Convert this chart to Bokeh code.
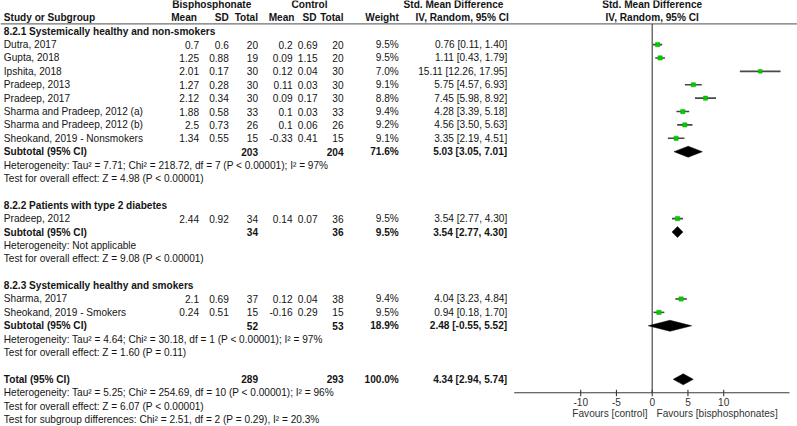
from bokeh.plotting import figure
from bokeh.models import ColumnDataSource, Range1d
from bokeh.core.properties import value
from bokeh.embed import file_html
from bokeh.resources import INLINE

# ---------------- data ----------------
studies = ["Dutra, 2017", "Gupta, 2018", "Ipshita, 2018", "Pradeep, 2013", "Pradeep, 2017",
           "Sharma and Pradeep, 2012 (a)", "Sharma and Pradeep, 2012 (b)",
           "Sheokand, 2019 - Nonsmokers", "Pradeep, 2012", "Sharma, 2017",
           "Sheokand, 2019 - Smokers"]
study_group = [0, 0, 0, 0, 0, 0, 0, 0, 1, 2, 2]
bis_mean = [0.7, 1.25, 2.01, 1.27, 2.12, 1.88, 2.5, 1.34, 2.44, 2.1, 0.24]
bis_sd = [0.6, 0.88, 0.17, 0.28, 0.34, 0.58, 0.73, 0.55, 0.92, 0.69, 0.51]
bis_n = [20, 19, 30, 30, 30, 33, 26, 15, 34, 37, 15]
ctl_mean = [0.2, 0.09, 0.12, 0.11, 0.09, 0.1, 0.1, -0.33, 0.14, 0.12, -0.16]
ctl_sd = [0.69, 1.15, 0.04, 0.03, 0.17, 0.03, 0.06, 0.41, 0.07, 0.04, 0.29]
ctl_n = [20, 20, 30, 30, 30, 33, 26, 15, 36, 38, 15]
weight = [9.5, 9.5, 7.0, 9.1, 8.8, 9.4, 9.2, 9.1, 9.5, 9.4, 9.5]
smd = [0.76, 1.11, 15.11, 5.75, 7.45, 4.28, 4.56, 3.35, 3.54, 4.04, 0.94]
smd_lo = [0.11, 0.43, 12.26, 4.57, 5.98, 3.39, 3.50, 2.19, 2.77, 3.23, 0.18]
smd_hi = [1.40, 1.79, 17.95, 6.93, 8.92, 5.18, 5.63, 4.51, 4.30, 4.84, 1.70]

group_titles = ["8.2.1 Systemically healthy and non-smokers",
                "8.2.2 Patients with type 2 diabetes",
                "8.2.3 Systemically healthy and smokers"]
sub_bis_n = [203, 34, 52]
sub_ctl_n = [204, 36, 53]
sub_weight = [71.6, 9.5, 18.9]
sub_smd = [5.03, 3.54, 2.48]
sub_lo = [3.05, 2.77, -0.55]
sub_hi = [7.01, 4.30, 5.52]
sub_het = ["Heterogeneity: Tau\u00b2 = 7.71; Chi\u00b2 = 218.72, df = 7 (P < 0.00001); I\u00b2 = 97%",
           "Heterogeneity: Not applicable",
           "Heterogeneity: Tau\u00b2 = 4.64; Chi\u00b2 = 30.18, df = 1 (P < 0.00001); I\u00b2 = 97%"]
sub_test = ["Test for overall effect: Z = 4.98 (P < 0.00001)",
            "Test for overall effect: Z = 9.08 (P < 0.00001)",
            "Test for overall effect: Z = 1.60 (P = 0.11)"]

tot_bis_n = 289
tot_ctl_n = 293
tot_weight = 100.0
tot_smd = 4.34
tot_lo = 2.94
tot_hi = 5.74
tot_notes = ["Heterogeneity: Tau\u00b2 = 5.25; Chi\u00b2 = 254.69, df = 10 (P < 0.00001); I\u00b2 = 96%",
             "Test for overall effect: Z = 6.07 (P < 0.00001)",
             "Test for subgroup differences: Chi\u00b2 = 2.51, df = 2 (P = 0.29), I\u00b2 = 20.3%"]

tick_values = [-10, -5, 0, 5, 10]
axis_extent = (-19.3, 19.2)
favours = ["Favours [control]", "Favours [bisphosphonates]"]

# ---------------- layout constants (pixel columns) ----------------
FONT = value("Liberation Sans")
FS = "10.1px"
INK = "#141414"
C_NAME = 3.3
C_BM, C_BSD, C_BN = 198.5, 228.3, 257.5
C_CM, C_CSD, C_CN = 292.0, 317.0, 343.0
C_W = 398.3
C_CI = 506.7
ZERO_PX, PX_PER_UNIT = 651.7, 7.15
Y0, PITCH = 17.3, 13.39  # px of row 0 and row pitch
W, H = 797, 426

p = figure(width=W, height=H,
           x_range=Range1d(0, W),
           y_range=Range1d((H - Y0) / PITCH, -Y0 / PITCH),
           output_backend="svg", toolbar_location=None, min_border=0,
           x_axis_location=None, y_axis_location=None)
p.extra_x_ranges = {"smd": Range1d(-ZERO_PX / PX_PER_UNIT, (W - ZERO_PX) / PX_PER_UNIT)}
p.grid.visible = False
p.outline_line_color = None
p.background_fill_color = "white"
p.border_fill_color = "white"

texts = {}


def put(x, r, s, align="left", bold=False, rng="default", color=INK):
    key = (align, bold, rng, color)
    d = texts.setdefault(key, {"x": [], "y": [], "t": []})
    d["x"].append(x)
    d["y"].append(r)
    d["t"].append(s)


def fmt_ci(e, lo, hi):
    return f"{e:.2f} [{lo:.2f}, {hi:.2f}]"


# header
put(211.3, -1, "Bisphosphonate", "center", True)
put(309.0, -1, "Control", "center", True)
put(453.0, -1, "Std. Mean Difference", "center", True)
put(0, -1, "Std. Mean Difference", "center", True, "smd")
put(C_NAME, 0, "Study or Subgroup", "left", True)
for x, s in [(C_BM - 2, "Mean"), (C_BSD, "SD"), (C_BN, "Total"), (C_CM + 2, "Mean"),
             (C_CSD - 1, "SD"), (C_CN, "Total"), (C_W, "Weight")]:
    put(x, 0, s, "right", True)
put(461.7, 0, "IV, Random, 95% CI", "center", True)
put(0, 0, "IV, Random, 95% CI", "center", True, "smd")

# rows
study_row = [0] * len(studies)
sub_row = []
r = 1
for g in range(len(group_titles)):
    put(C_NAME, r, group_titles[g], "left", True)
    r += 1
    for i, gi in enumerate(study_group):
        if gi == g:
            study_row[i] = r
            put(C_NAME, r, studies[i])
            put(C_BM, r, str(bis_mean[i]), "right")
            put(C_BSD, r, str(bis_sd[i]), "right")
            put(C_BN, r, str(bis_n[i]), "right")
            put(C_CM, r, str(ctl_mean[i]), "right")
            put(C_CSD, r, str(ctl_sd[i]), "right")
            put(C_CN, r, str(ctl_n[i]), "right")
            put(C_W, r, f"{weight[i]:.1f}%", "right")
            put(C_CI, r, fmt_ci(smd[i], smd_lo[i], smd_hi[i]), "right")
            r += 1
    sub_row.append(r)
    put(C_NAME, r, "Subtotal (95% CI)", "left", True)
    put(C_BN, r, str(sub_bis_n[g]), "right", True)
    put(C_CN, r, str(sub_ctl_n[g]), "right", True)
    put(C_W, r, f"{sub_weight[g]:.1f}%", "right", True)
    put(C_CI, r, fmt_ci(sub_smd[g], sub_lo[g], sub_hi[g]), "right", True)
    r += 1
    put(C_NAME, r, sub_het[g])
    r += 1
    put(C_NAME, r, sub_test[g])
    r += 2

tot_row = r
put(C_NAME, r, "Total (95% CI)", "left", True)
put(C_BN, r, str(tot_bis_n), "right", True)
put(C_CN, r, str(tot_ctl_n), "right", True)
put(C_W, r, f"{tot_weight:.1f}%", "right", True)
put(C_CI, r, fmt_ci(tot_smd, tot_lo, tot_hi), "right", True)
for k, s in enumerate(tot_notes):
    put(C_NAME, r + 1 + k, s)

# lines: header rule, zero line, axis
rule_r = (23.4 - Y0) / PITCH
axis_r = (392.3 - Y0) / PITCH
p.segment(x0=[0], x1=[W], y0=[rule_r], y1=[rule_r], line_color="#707070", line_width=1.4)
p.segment(x0=[0], x1=[0], y0=[rule_r], y1=[axis_r], line_color="#3a3a3a", line_width=1.1,
          x_range_name="smd")
p.segment(x0=[axis_extent[0]], x1=[axis_extent[1]], y0=[axis_r], y1=[axis_r],
          line_color="#3a3a3a", line_width=1.1, x_range_name="smd")
p.segment(x0=tick_values, x1=tick_values, y0=[axis_r - 0.22] * len(tick_values),
          y1=[axis_r + 0.26] * len(tick_values), line_color="#3a3a3a", line_width=1.1,
          x_range_name="smd")
for t in tick_values:
    put(t, (401.3 - Y0) / PITCH, str(t), "center", False, "smd", "#333333")
put(-0.66, (413 - Y0) / PITCH, favours[0], "right", False, "smd", "#333333")
put(0.6, (413 - Y0) / PITCH, favours[1], "left", False, "smd", "#333333")

# study CIs and squares
p.segment(x0=smd_lo, x1=smd_hi, y0=study_row, y1=study_row, line_color="#484848",
          line_width=1.6, x_range_name="smd")
sizes = [4.3 * (w / 9.5) ** 0.5 for w in weight]
p.scatter(x=smd, y=study_row, size=sizes, marker="square", fill_color="#00cc00",
          line_color="#00b000", line_width=0.5, x_range_name="smd")

# diamonds
dx, dy = [], []
half = 0.41
for e, lo, hi, rr in zip(sub_smd + [tot_smd], sub_lo + [tot_lo], sub_hi + [tot_hi],
                         sub_row + [tot_row]):
    dx.append([lo, e, hi, e])
    dy.append([rr, rr - half, rr, rr + half])
p.patches(xs=dx, ys=dy, fill_color="black", line_color="black", line_width=0.5,
          x_range_name="smd")

# texts
for (align, bold, rng, color), d in texts.items():
    p.text(x="x", y="y", text="t", source=ColumnDataSource(d), text_align=align,
           text_baseline="middle", text_font=FONT, text_font_size=FS,
           text_font_style="bold" if bold else "normal", text_color=color,
           x_range_name=rng)

open("out.html", "w").write(file_html(p, INLINE))
